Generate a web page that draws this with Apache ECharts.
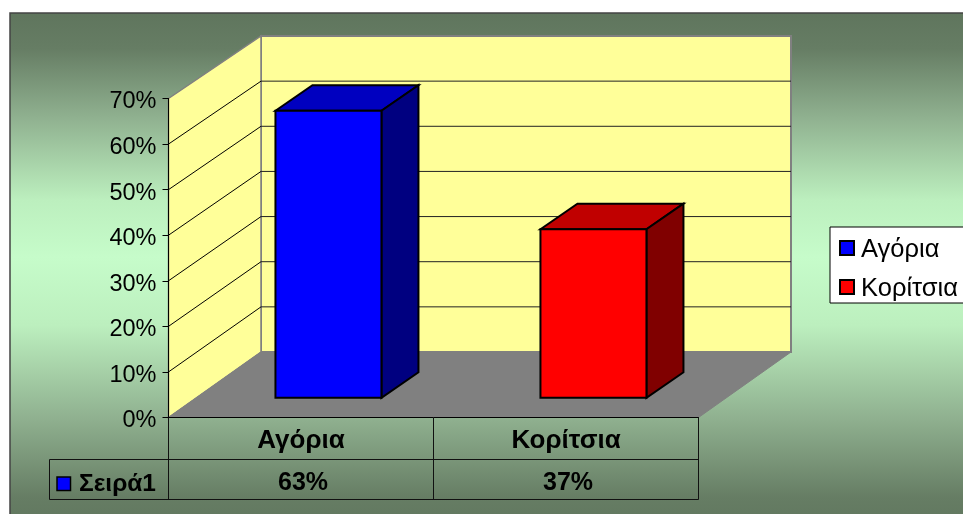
<!DOCTYPE html>
<html>
<head>
<meta charset="utf-8">
<title>Αγόρια - Κορίτσια</title>
<script src="https://cdn.jsdelivr.net/npm/echarts@6/dist/echarts.min.js"></script>
<style>
html, body { margin: 0; padding: 0; background: #fff; overflow: hidden; }
#main { width: 963px; height: 514px; }
</style>
</head>
<body>
<div id="main"></div>
<script>
var categories = ['Αγόρια', 'Κορίτσια'];
var seriesName = 'Σειρά1';
var values = [63, 37];
var frontColors = ['#0000ff', '#ff0000'];
var topColors = ['#0000c0', '#c00000'];
var sideColors = ['#000080', '#800000'];
var gridTicks = [10, 20, 30, 40, 50, 60, 70];

var FONT = '"Liberation Sans", Arial, sans-serif';
// depth of the floor in pixels, the bars sit from 30% to 70% of it
var DEPTH_X = 92.5;
var DEPTH_Y = -65.5;
// the back wall is a little shorter than the front edge
var BACK_SCALE = 316 / 319;

var myChart = echarts.init(document.getElementById('main'));

function renderWalls(params, api) {
    var x0 = params.coordSys.x;
    var x1 = x0 + params.coordSys.width;
    var y0 = api.coord([0, 0])[1];
    var yTop = api.coord([0, 70])[1];
    var backBottom = y0 + DEPTH_Y;
    function backY(y) {
        return backBottom - (y0 - y) * BACK_SCALE;
    }
    var children = [];
    // back wall
    children.push({
        type: 'rect',
        shape: { x: x0 + DEPTH_X, y: backY(yTop), width: x1 - x0, height: backBottom - backY(yTop) },
        style: { fill: '#ffff99', stroke: '#808080', lineWidth: 2 }
    });
    // side wall
    children.push({
        type: 'polygon',
        shape: { points: [[x0, yTop], [x0 + DEPTH_X, backY(yTop)], [x0 + DEPTH_X, backBottom], [x0, y0]] },
        style: { fill: '#ffff99', stroke: '#808080', lineWidth: 1.5 }
    });
    // floor
    children.push({
        type: 'polygon',
        shape: { points: [[x0, y0], [x0 + DEPTH_X, backBottom], [x1 + DEPTH_X, backBottom], [x1, y0]] },
        style: { fill: '#808080', stroke: '#808080', lineWidth: 1 }
    });
    // gridlines follow both walls
    for (var i = 0; i < gridTicks.length; i++) {
        if (gridTicks[i] >= 70) {
            continue;
        }
        var y = api.coord([0, gridTicks[i]])[1];
        children.push({
            type: 'line',
            shape: { x1: x0, y1: y, x2: x0 + DEPTH_X, y2: backY(y) },
            style: { stroke: '#000', lineWidth: 1 }
        });
        children.push({
            type: 'line',
            shape: { x1: x0 + DEPTH_X, y1: backY(y), x2: x1 + DEPTH_X, y2: backY(y) },
            style: { stroke: '#222', lineWidth: 1 }
        });
    }
    return { type: 'group', children: children };
}

function renderBar(params, api) {
    var idx = api.value(0);
    var base = api.coord([idx, 0]);
    var top = api.coord([idx, api.value(1)]);
    var w = api.size([1, 0])[0] * 0.4;
    var left = base[0] - w / 2 + DEPTH_X * 0.3 - 0.3;
    var right = left + w;
    var yb = base[1] + DEPTH_Y * 0.3;
    var yt = top[1] + DEPTH_Y * 0.3;
    var dx = DEPTH_X * 0.4;
    var dy = DEPTH_Y * 0.39;
    var line = { stroke: '#000', lineWidth: 2, lineJoin: 'miter' };
    return {
        type: 'group',
        children: [
            {
                type: 'polygon',
                shape: { points: [[left, yt], [left + dx, yt + dy], [right + dx, yt + dy], [right, yt]] },
                style: Object.assign({ fill: topColors[idx] }, line)
            },
            {
                type: 'polygon',
                shape: { points: [[right, yt], [right + dx, yt + dy], [right + dx, yb + dy], [right, yb]] },
                style: Object.assign({ fill: sideColors[idx] }, line)
            },
            {
                type: 'rect',
                shape: { x: left, y: yt, width: w, height: yb - yt },
                style: Object.assign({ fill: frontColors[idx] }, line)
            }
        ]
    };
}

// the data table under the chart: value row
function renderTable(params, api) {
    var idx = api.value(0);
    var x = api.coord([idx, 0])[0];
    var y0 = api.coord([0, 0])[1];
    return {
        type: 'text',
        style: {
            x: x + 2, y: y0 + 66, text: api.value(1) + '%',
            font: 'bold 25px ' + FONT, fill: '#000',
            align: 'center', verticalAlign: 'middle', textAlign: 'center', textVerticalAlign: 'middle'
        }
    };
}

var seriesList = [{
    type: 'custom',
    name: 'walls',
    renderItem: renderWalls,
    data: [[0, 0]],
    z: 1,
    silent: true
}];
for (var i = 0; i < categories.length; i++) {
    seriesList.push({
        type: 'custom',
        name: categories[i],
        renderItem: renderBar,
        data: [[i, values[i]]],
        itemStyle: { color: frontColors[i], borderColor: '#000', borderWidth: 1.5 },
        z: 2,
        silent: true
    });
}
seriesList.push({
    type: 'custom',
    name: seriesName,
    renderItem: renderTable,
    data: values.map(function (v, i) { return [i, v]; }),
    z: 3,
    silent: true
});

var option = {
    animation: false,
    graphic: [
        {
            type: 'rect',
            z: -10,
            shape: { x: 10, y: 13, width: 970, height: 520 },
            style: {
                fill: new echarts.graphic.LinearGradient(0, 0, 0, 1, [
                    { offset: 0, color: '#5f755d' },
                    { offset: 0.07, color: '#667d64' },
                    { offset: 0.2, color: '#8fb08f' },
                    { offset: 0.36, color: '#bcefbe' },
                    { offset: 0.47, color: '#c6fcca' },
                    { offset: 0.6, color: '#bcefbe' },
                    { offset: 0.78, color: '#8fb08f' },
                    { offset: 0.93, color: '#667d64' },
                    { offset: 1, color: '#5f755d' }
                ]),
                stroke: '#444',
                lineWidth: 1.5
            }
        },
        // table rows and the series key
        {
            type: 'polyline',
            z: 6,
            shape: { points: [[698.5, 459.5], [49.5, 459.5], [49.5, 499.5], [698.5, 499.5]] },
            style: { fill: null, stroke: '#111', lineWidth: 1 }
        },
        {
            type: 'rect',
            z: 6,
            shape: { x: 57, y: 477, width: 13.5, height: 13.5 },
            style: { fill: '#0000ff', stroke: '#000', lineWidth: 1.5 }
        },
        {
            type: 'text',
            z: 6,
            style: {
                x: 156, y: 484, text: seriesName, font: 'bold 24.5px ' + FONT, fill: '#000',
                align: 'right', verticalAlign: 'middle', textAlign: 'right', textVerticalAlign: 'middle'
            }
        }
    ],
    grid: { left: 168.5, top: 98.5, width: 530, height: 319 },
    legend: {
        orient: 'vertical',
        left: 830,
        top: 227,
        padding: [10, 40, 1, 9],
        data: categories,
        icon: 'rect',
        itemWidth: 14,
        itemHeight: 14,
        itemGap: 13,
        backgroundColor: '#fff',
        borderColor: '#000',
        borderWidth: 1,
        selectedMode: false,
        formatter: '{t|{name}}',
        textStyle: {
            fontFamily: FONT,
            fontSize: 25.5,
            color: '#000',
            rich: { t: { fontFamily: FONT, fontSize: 25.5, color: '#000', padding: [4, 0, 0, 2] } }
        }
    },
    xAxis: {
        type: 'category',
        data: categories,
        z: 5,
        axisLine: { lineStyle: { color: '#000', width: 1 } },
        axisTick: { show: true, length: 82, lineStyle: { color: '#111', width: 1 } },
        axisLabel: {
            margin: 10,
            fontFamily: FONT,
            fontWeight: 'bold',
            fontSize: 26,
            color: '#000'
        },
        splitLine: { show: false }
    },
    yAxis: {
        type: 'value',
        min: 0,
        max: 70,
        interval: 10,
        z: 5,
        axisLine: { show: true, lineStyle: { color: '#000', width: 1 } },
        axisTick: { show: true, length: 6, lineStyle: { color: '#000', width: 1 } },
        axisLabel: {
            margin: 12,
            formatter: '{t|{value}%}',
            rich: { t: { fontFamily: FONT, fontSize: 23.5, color: '#000', padding: [7, 0, 0, 0] } }
        },
        splitLine: { show: false }
    },
    series: seriesList
};

myChart.setOption(option);
</script>
</body>
</html>
